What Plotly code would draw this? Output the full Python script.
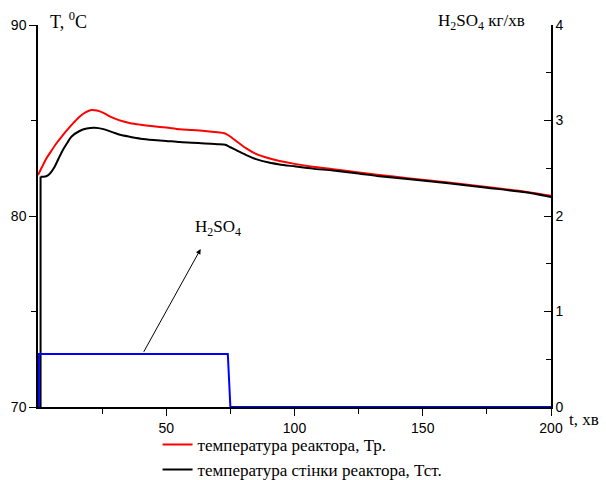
import plotly.graph_objects as go

# --- data ---
t_red = [0, 1.5, 3.2, 5, 7, 9.7, 12, 14, 16.2, 18.5, 20.8, 23, 25.5, 28, 30, 33, 36, 40, 45, 50, 55.2,
         60, 65, 70, 72.7, 74.5, 77, 81.2, 85, 90, 94.2, 100, 107, 115, 125, 133, 145, 160, 175, 190, 200]
T_red = [82.15, 82.55, 83.0, 83.37, 83.77, 84.24, 84.6, 84.9, 85.2, 85.42, 85.55, 85.52, 85.4, 85.22, 85.1,
         84.96, 84.86, 84.78, 84.7, 84.63, 84.54, 84.5, 84.45, 84.38, 84.33, 84.2, 83.95, 83.54, 83.25, 83.02,
         82.88, 82.73, 82.58, 82.45, 82.28, 82.15, 81.97, 81.75, 81.52, 81.27, 81.06]

# wall temperature: initial jump (vertical segment) and the curve after it
t_wall_jump = [1.0, 1.0]
T_wall_jump = [70, 82.06]
t_wall = [1.0, 2, 3.2, 4.5, 6.5, 8, 9.7, 11.5, 13, 16.2, 19, 22, 25.5, 29.2, 32, 35.7, 40, 45, 50, 55.2,
          60, 65, 70, 73, 75, 78, 81.2, 85, 90, 94.2, 100, 107, 115, 125, 133, 145, 160, 175, 190, 200]
T_wall = [82.06, 82.06, 82.08, 82.2, 82.58, 83.0, 83.46, 83.85, 84.15, 84.45, 84.58, 84.62, 84.55, 84.38,
          84.25, 84.15, 84.05, 83.98, 83.93, 83.87, 83.84, 83.8, 83.76, 83.73, 83.6, 83.4, 83.19, 82.98, 82.8,
          82.7, 82.6, 82.48, 82.38, 82.22, 82.08, 81.92, 81.72, 81.48, 81.24, 81.0]

t_acid = [0.35, 0.35, 74, 75, 200]
acid = [0, 0.555, 0.555, 0, 0]

x_ticks = [50, 100, 150, 200]
x_minor = [25, 75, 125, 175]

name_red = "температура реактора, Тр."
name_wall = "температура стінки реактора, Тст."

SERIF = "Liberation Serif, Times New Roman, serif"
SANS = "Liberation Sans, Arial, sans-serif"

fig = go.Figure()
fig.add_trace(go.Scatter(x=t_red, y=T_red, mode="lines", name=name_red,
                         line=dict(color="#ff0000", width=2, shape="spline", smoothing=0.8)))
fig.add_trace(go.Scatter(x=t_wall, y=T_wall, mode="lines", name=name_wall, legendgroup="wall",
                         line=dict(color="#000000", width=2, shape="spline", smoothing=0.6)))
fig.add_trace(go.Scatter(x=t_wall_jump, y=T_wall_jump, mode="lines", showlegend=False, legendgroup="wall",
                         line=dict(color="#000000", width=2)))
fig.add_trace(go.Scatter(x=t_acid, y=acid, mode="lines", showlegend=False, yaxis="y2",
                         line=dict(color="#0000ff", width=2)))

fig.update_layout(
    width=606, height=480,
    margin=dict(l=38, r=55, t=25, b=73, autoexpand=False),
    paper_bgcolor="white", plot_bgcolor="white",
    font=dict(family=SANS, size=14, color="black"),
    xaxis=dict(range=[0, 200], tickmode="array", tickvals=x_ticks, ticks="outside", ticklen=7,
               tickwidth=1, tickcolor="black", showline=True, linecolor="black", linewidth=1.5,
               showgrid=False, zeroline=False,
               minor=dict(tickmode="array", tickvals=x_minor, ticks="outside", ticklen=5,
                          tickcolor="black", tickwidth=1),
               tickfont=dict(family=SANS, size=14)),
    yaxis=dict(range=[70, 90], tickmode="linear", tick0=70, dtick=10, ticks="outside", ticklen=7,
               tickwidth=1, tickcolor="black", showline=True, linecolor="black", linewidth=1.5,
               showgrid=False, zeroline=False,
               minor=dict(dtick=5, tick0=70, ticks="outside", ticklen=5, tickcolor="black", tickwidth=1),
               tickfont=dict(family=SANS, size=14)),
    yaxis2=dict(range=[0, 4], overlaying="y", side="right", tickmode="linear", tick0=0, dtick=1,
                ticks="inside", ticklen=7, tickwidth=1, tickcolor="black", showline=True,
                linecolor="black", linewidth=1.5, showgrid=False, zeroline=False,
                minor=dict(dtick=0.5, tick0=0, ticks="inside", ticklen=5, tickcolor="black", tickwidth=1),
                tickfont=dict(family=SANS, size=14)),
    legend=dict(x=0.26, y=0.1105, xref="container", yref="container", xanchor="left", yanchor="top",
                bgcolor="rgba(0,0,0,0)", font=dict(family=SERIF, size=17), tracegroupgap=0),
    showlegend=True,
)

fig.add_annotation(xref="paper", yref="paper", x=0.0195, y=1.013, xanchor="left", yanchor="middle",
                   text="T, <sup>0</sup>C", showarrow=False, font=dict(family=SERIF, size=18))
fig.add_annotation(xref="paper", yref="paper", x=0.776, y=1.008, xanchor="left", yanchor="middle",
                   text="H<sub>2</sub>SO<sub>4</sub> кг/хв", showarrow=False, font=dict(family=SERIF, size=17))
fig.add_annotation(xref="paper", yref="paper", x=1.031, y=-0.033, xanchor="left", yanchor="middle",
                   text="t, хв", showarrow=False, font=dict(family=SERIF, size=17))
# label of the acid curve with arrow
fig.add_annotation(xref="x", yref="y", x=60.25, y=79.37, xanchor="left", yanchor="middle",
                   text="H<sub>2</sub>SO<sub>4</sub>", showarrow=False, font=dict(family=SERIF, size=17))
fig.add_annotation(xref="x", yref="y", x=63.4, y=78.27, axref="x", ayref="y", ax=40.9, ay=72.81,
                   text="", showarrow=True, arrowhead=2, arrowsize=1, arrowwidth=1, arrowcolor="black")

fig.write_html("out.html")
